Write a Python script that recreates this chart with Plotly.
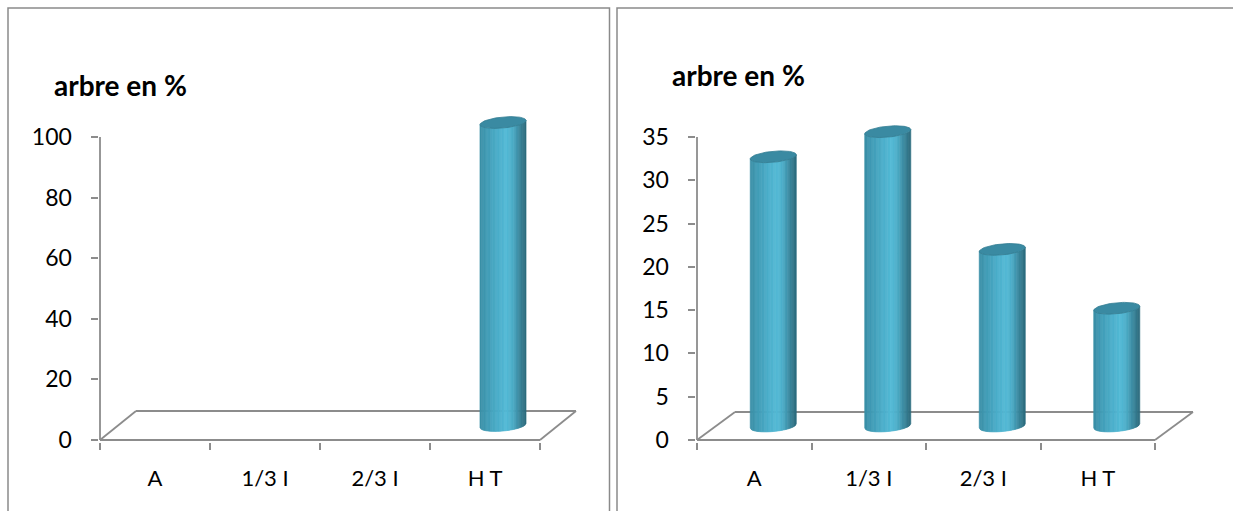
import numpy as np
import plotly.graph_objects as go

# ---- data -------------------------------------------------------------
categories = ["A", "1/3 I", "2/3 I", "H T"]
left_values = [0, 0, 0, 100]
right_values = [31.1, 34.0, 20.4, 13.6]
left_ticks = [0, 20, 40, 60, 80, 100]
right_ticks = [0, 5, 10, 15, 20, 25, 30, 35]
chart_title = "arbre en %"

# ---- page / style -----------------------------------------------------
W, H = 1233, 511
FONT = "Lato"
GRID = "#8c8c8c"
CAP = "#3a8aa2"
CAP_EDGE = "#347d93"
# horizontal shading across a cylinder body (left -> right)
SHADE = [(0.00, (58, 142, 166)), (0.15, (64, 155, 180)), (0.35, (72, 170, 198)),
         (0.58, (83, 186, 214)), (0.72, (75, 172, 199)), (0.86, (58, 136, 158)),
         (1.00, (44, 106, 124))]
NSTRIP = 36


def shade(t):
    for (t0, c0), (t1, c1) in zip(SHADE[:-1], SHADE[1:]):
        if t0 <= t <= t1:
            f = (t - t0) / (t1 - t0)
            c = [round(a + (b - a) * f) for a, b in zip(c0, c1)]
            return "rgb(%d,%d,%d)" % tuple(c)
    return "rgb(%d,%d,%d)" % SHADE[-1][1]


# panel geometry: pixel origin of (first category boundary, 0), px per unit,
# range ends, floor depth in px
panels = [
    dict(values=left_values, ticks=left_ticks, ox=100, oy=440, kx=110.0,
         ky=303 / 100, x_end=3.9, y_top=112, depth=(36, 29),
         title_xy=(52, 85), xa="x", ya="y"),
    dict(values=right_values, ticks=right_ticks, ox=697, oy=440, kx=114.5,
         ky=303 / 35, x_end=3.95, y_top=39.5, depth=(38, 28),
         title_xy=(670, 75), xa="x2", ya="y2"),
]

fig = go.Figure()
shapes = []
annotations = []
layout_axes = {}
EPS = 1.5

for n, p in enumerate(panels):
    kx, ky = p["kx"], p["ky"]
    ox, oy = p["ox"], p["oy"]
    x_range = [-0.5 - EPS / kx, p["x_end"]]
    y_range = [-EPS / ky, p["y_top"]]
    xl = ox - EPS
    xr = ox + (p["x_end"] + 0.5) * kx
    yb_px = oy + EPS
    yt_px = oy - p["y_top"] * ky
    dxu = p["depth"][0] / kx
    dyu = p["depth"][1] / ky
    xa, ya = p["xa"], p["ya"]
    suffix = "" if n == 0 else str(n + 1)

    layout_axes["xaxis" + suffix] = dict(
        domain=[xl / W, xr / W], range=x_range, anchor=ya, automargin=False,
        showgrid=False, zeroline=False, showline=False,
        tickmode="array", tickvals=list(range(len(categories))),
        ticktext=categories, ticks="", ticklabelstandoff=21,
        tickfont=dict(family=FONT, size=22, color="black"),
        minor=dict(tickmode="array",
                   tickvals=[i - 0.5 for i in range(len(categories) + 1)],
                   ticks="outside", ticklen=7, tickwidth=1.5, tickcolor=GRID),
        fixedrange=True,
    )
    layout_axes["yaxis" + suffix] = dict(
        domain=[(H - yb_px) / H, (H - yt_px) / H], range=y_range, anchor=xa,
        automargin=False,
        showgrid=False, zeroline=False, showline=False,
        tickmode="array", tickvals=p["ticks"],
        ticks="outside", ticklen=7, tickwidth=1.5, tickcolor=GRID,
        ticklabelstandoff=14,
        tickfont=dict(family=FONT, size=23, color="black"),
        fixedrange=True,
    )

    vmax = p["ticks"][-1]
    nc = len(categories)
    line = dict(color=GRID, width=1.8)
    # value axis line and the floor outline
    for (x0, y0, x1, y1) in [
        (-0.5, 0, -0.5, vmax),
        (-0.5, 0, nc - 0.5, 0),
        (-0.5, 0, -0.5 + dxu, dyu),
        (-0.5 + dxu, dyu, nc - 0.5 + dxu, dyu),
        (nc - 0.5, 0, nc - 0.5 + dxu, dyu),
    ]:
        shapes.append(dict(type="line", xref=xa, yref=ya, x0=x0, y0=y0,
                           x1=x1, y1=y1, line=line, layer="below"))

    # cylinders
    r = 23.0 / kx
    ry = 5.5 / ky
    tilt = 0.09 * kx / ky
    base = dyu / 2
    strips = [[[], []] for _ in range(NSTRIP)]
    caps_x, caps_y = [], []
    for i, v in enumerate(p["values"]):
        if v <= 0:
            continue
        xc = i + dxu / 2
        top = base + v

        def front(u):
            return -ry * np.sqrt(max(0.0, 1 - u * u)) + tilt * (u * r)

        for s in range(NSTRIP):
            us = np.linspace(-1 + 2 * s / NSTRIP, -1 + 2 * (s + 1) / NSTRIP, 4)
            px = [xc + r * u for u in us]
            lower = [base + front(u) for u in us]
            upper = [top + front(u) for u in us]
            sx, sy = strips[s]
            sx += px + px[::-1] + [px[0], None]
            sy += lower + upper[::-1] + [lower[0], None]

        th = np.linspace(0, 2 * np.pi, 73)
        caps_x += list(xc + r * np.cos(th)) + [None]
        caps_y += list(top + ry * np.sin(th) + tilt * r * np.cos(th)) + [None]

    for s in range(NSTRIP):
        sx, sy = strips[s]
        if not sx:
            continue
        col = shade((s + 0.5) / NSTRIP)
        fig.add_trace(go.Scatter(
            x=sx, y=sy, xaxis=xa, yaxis=ya, mode="lines", fill="toself",
            fillcolor=col, line=dict(color=col, width=0.7),
            hoverinfo="skip", showlegend=False))
    if caps_x:
        fig.add_trace(go.Scatter(
            x=caps_x, y=caps_y, xaxis=xa, yaxis=ya, mode="lines", fill="toself",
            fillcolor=CAP, line=dict(color=CAP_EDGE, width=0.8),
            hoverinfo="skip", showlegend=False))

    tx, ty = p["title_xy"]
    annotations.append(dict(
        text="<b>%s</b>" % chart_title, xref="paper", yref="paper",
        x=tx / W, y=(H - ty) / H, xanchor="left", yanchor="middle",
        showarrow=False, font=dict(family=FONT, size=28, color="black")))

# framed chart areas
for x0, x1 in [(8, 609.5), (617, 1240)]:
    shapes.append(dict(type="rect", xref="paper", yref="paper",
                       x0=x0 / W, x1=x1 / W, y0=-0.05, y1=(H - 8) / H,
                       line=dict(color="#8a8a8a", width=1.5),
                       fillcolor="rgba(0,0,0,0)", layer="below"))

fig.update_layout(
    width=W, height=H, margin=dict(l=0, r=0, t=0, b=0, autoexpand=False),
    paper_bgcolor="white", plot_bgcolor="rgba(0,0,0,0)",
    showlegend=False, shapes=shapes, annotations=annotations,
    **layout_axes,
)

fig.write_html("out.html")
